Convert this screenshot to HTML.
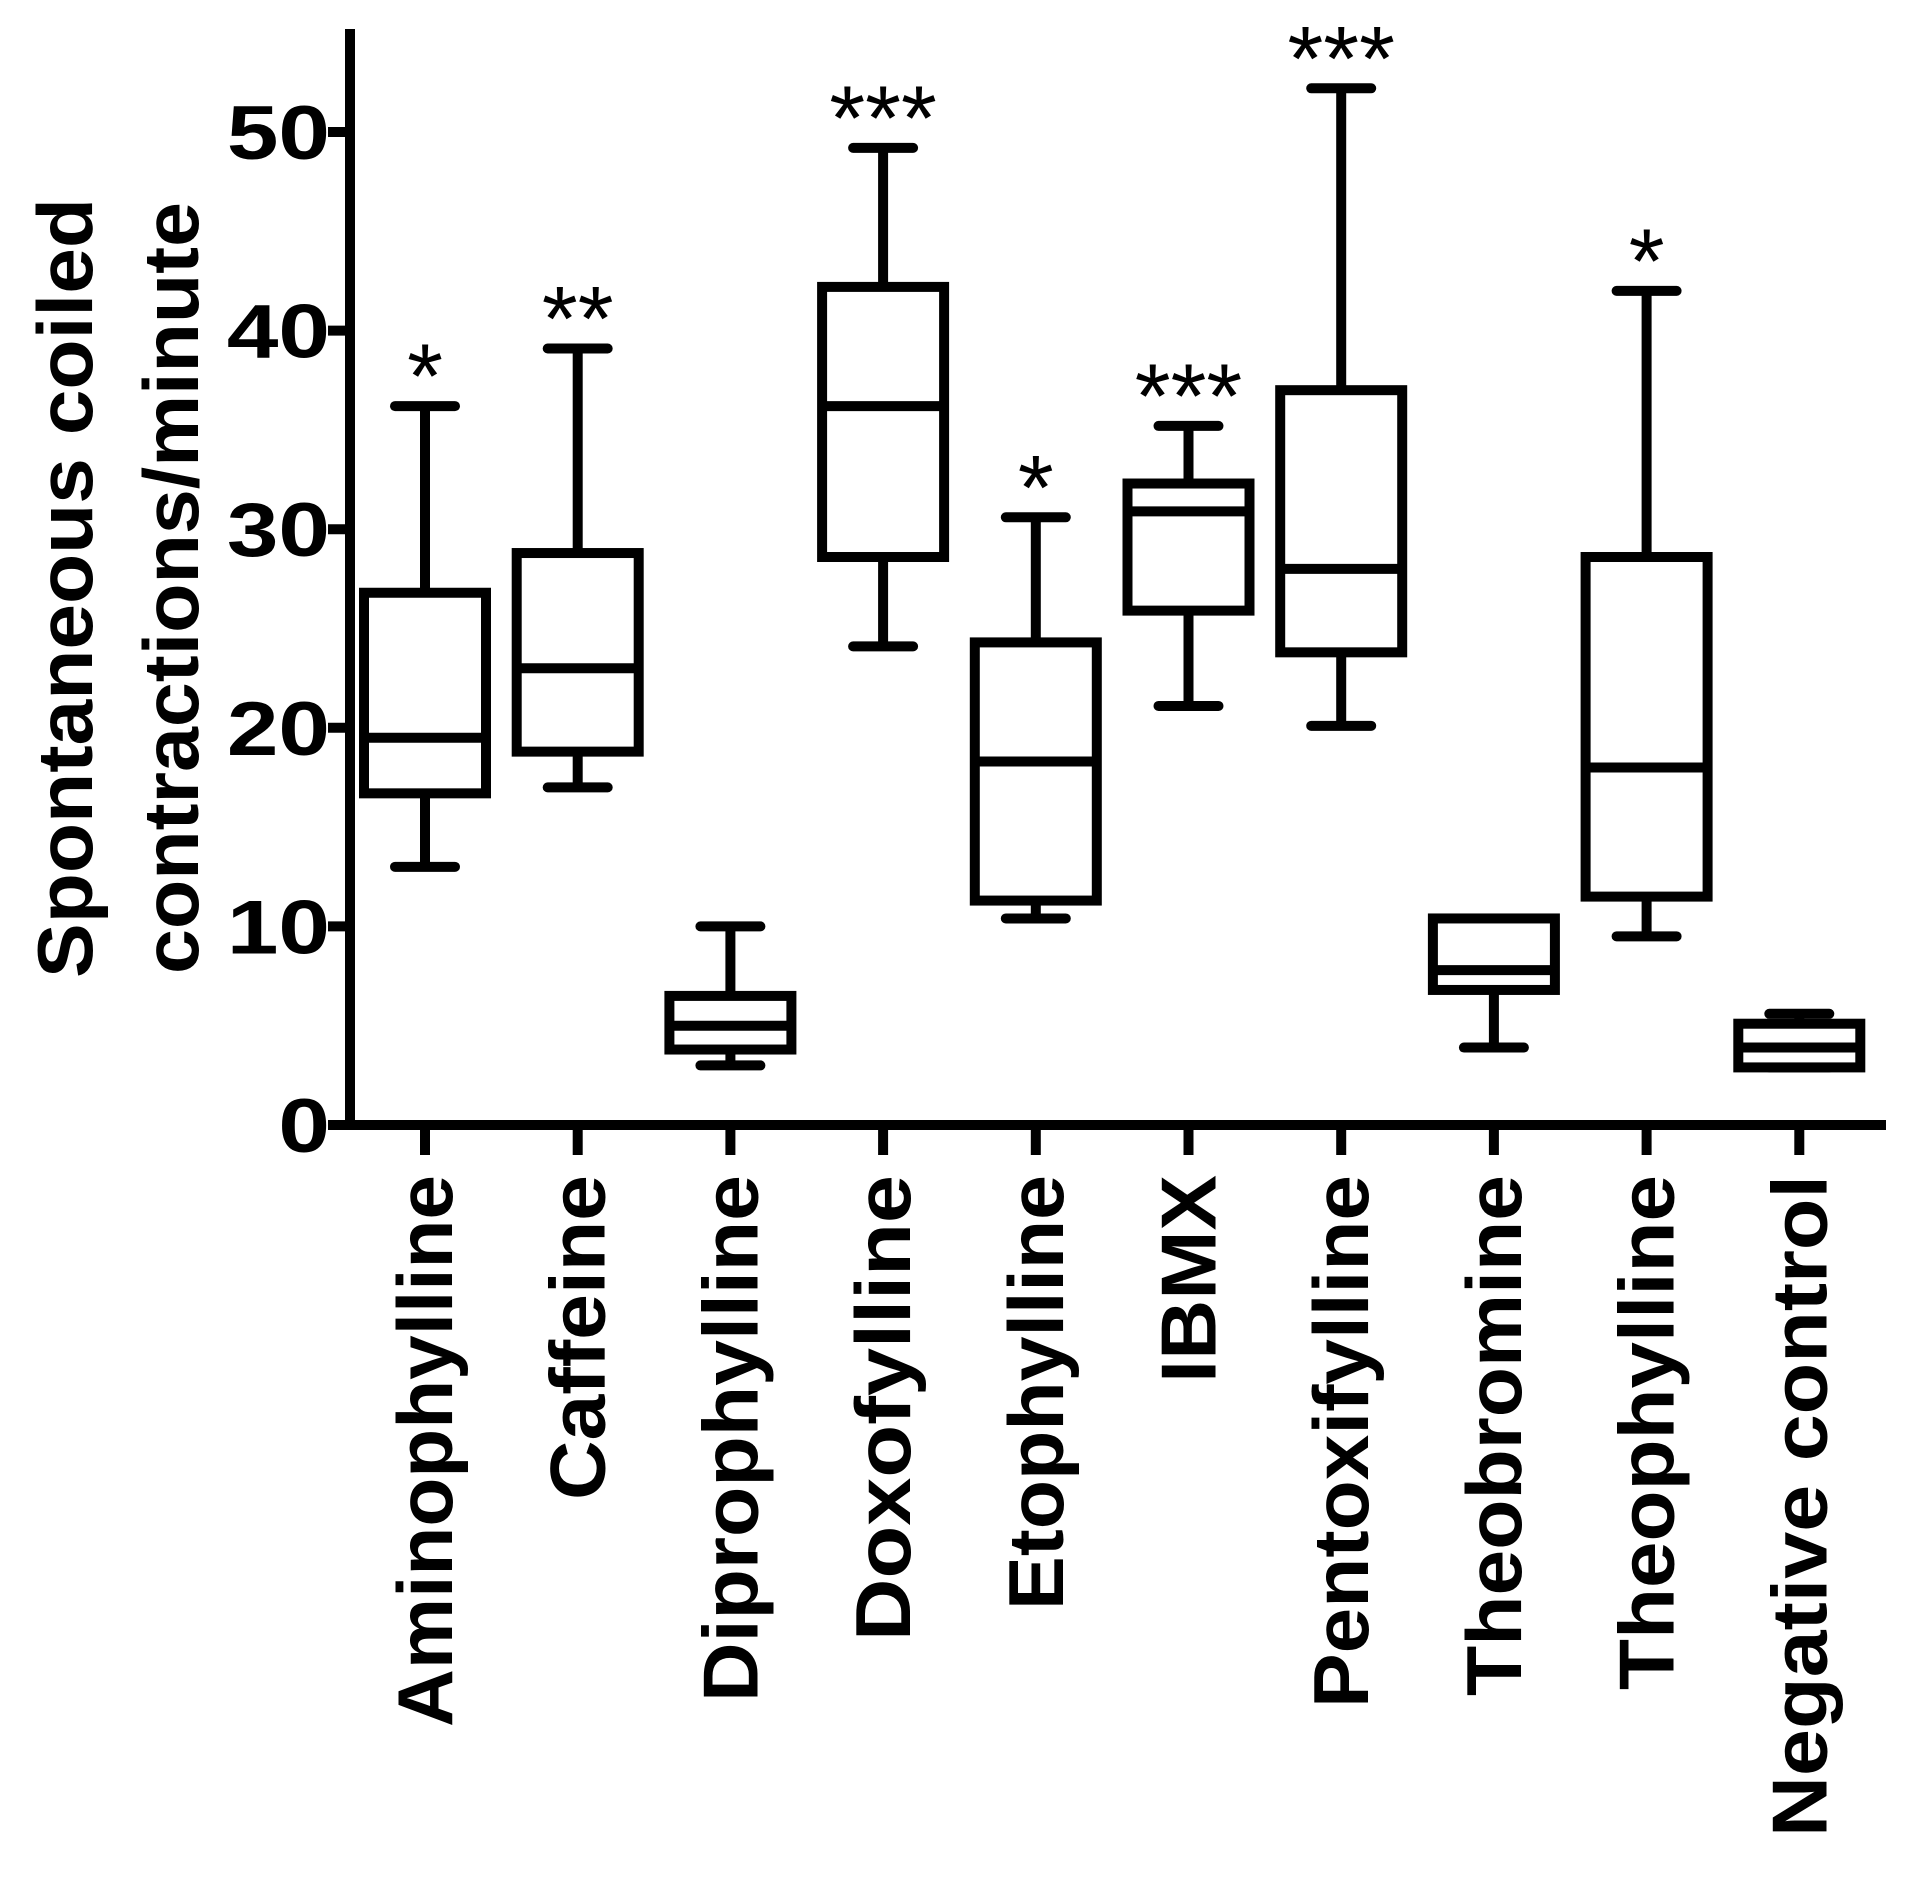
<!DOCTYPE html>
<html><head><meta charset="utf-8"><style>
html,body{margin:0;padding:0;background:#fff;}
svg{display:block;}
text{font-family:"Liberation Sans",Arial,sans-serif;fill:#000;}
</style></head><body>
<svg id="chart" width="1916" height="1879" viewBox="0 0 1916 1879" xmlns="http://www.w3.org/2000/svg">
<g id="axes"></g>
<g id="boxes"></g>
<text transform="translate(92,588) rotate(-90)" text-anchor="middle" font-size="78" font-weight="bold" textLength="780" lengthAdjust="spacingAndGlyphs">Spontaneous coiled</text>
<text transform="translate(198,588) rotate(-90)" text-anchor="middle" font-size="78" font-weight="bold" textLength="772" lengthAdjust="spacingAndGlyphs">contractions/minute</text>
</svg>
<script>
const categories=["Aminophylline","Caffeine","Diprophylline","Doxofylline","Etophylline","IBMX","Pentoxifylline","Theobromine","Theophylline","Negative control"];
const mins=[13.0,17.0,3.0,24.1,10.4,21.1,20.1,3.9,9.5,2.9];
const q1s=[16.7,18.8,3.8,28.6,11.3,25.9,23.8,6.8,11.5,2.9];
const medians=[19.5,23.0,5.0,36.2,18.3,30.9,28.0,7.8,18.0,3.9];
const q3s=[26.8,28.8,6.5,42.2,24.3,32.3,37.0,10.4,28.6,5.1];
const maxs=[36.2,39.1,10.0,49.2,30.6,35.2,52.2,10.0,42.0,5.6];
const stars=["*","**","","***","*","***","***","","*",""];
const yTicks=[0,10,20,30,40,50];
const labelLengths=[552,325,527,466,435,208,533,521,515,662];

const NS="http://www.w3.org/2000/svg";
const y0=1125, pxPer=19.86;
function yScale(v){return y0-v*pxPer;}
function xScale(i){return 425+i*152.7;}
const LW=10;
function mk(tag,attrs,parent){const e=document.createElementNS(NS,tag);for(const k in attrs)e.setAttribute(k,attrs[k]);parent.appendChild(e);return e;}
const axes=document.getElementById('axes'), boxes=document.getElementById('boxes');

let e;
e=mk('line',{x1:350,y1:29,x2:350,y2:y0+5,stroke:'#000','stroke-width':LW},axes);


e=mk('line',{x1:328,y1:y0,x2:1886,y2:y0,stroke:'#000','stroke-width':LW},axes);



yTicks.forEach(v=>{
  const y=yScale(v);
  let t=mk('line',{x1:328,y1:y,x2:350,y2:y,stroke:'#000','stroke-width':LW},axes);
  
  
  let l=mk('text',{transform:`translate(330,${y+27}) scale(1.22,1)`,'text-anchor':'end','font-size':76,'font-weight':'bold'},axes);
  l.textContent=v;
  
  
});

categories.forEach((c,i)=>{
  const x=xScale(i);
  let t=mk('line',{x1:x,y1:y0,x2:x,y2:y0+30,stroke:'#000','stroke-width':LW},axes);
  
  
  let l=mk('text',{transform:`translate(${x+27},1175) rotate(-90)`,'text-anchor':'end','font-size':78,'font-weight':'bold',textLength:labelLengths[i],lengthAdjust:'spacingAndGlyphs'},axes);
  l.textContent=c;
  
  

  const g=mk('g',{},boxes);
  
  
  const hw=61, cw=30;
  mk('line',{x1:x,y1:yScale(maxs[i]),x2:x,y2:yScale(q3s[i]),stroke:'#000','stroke-width':LW},g);
  mk('line',{x1:x,y1:yScale(q1s[i]),x2:x,y2:yScale(mins[i]),stroke:'#000','stroke-width':LW},g);
  mk('line',{x1:x-cw,y1:yScale(maxs[i]),x2:x+cw,y2:yScale(maxs[i]),stroke:'#000','stroke-width':LW,'stroke-linecap':'round'},g);
  mk('line',{x1:x-cw,y1:yScale(mins[i]),x2:x+cw,y2:yScale(mins[i]),stroke:'#000','stroke-width':LW,'stroke-linecap':'round'},g);
  mk('rect',{x:x-hw,y:yScale(q3s[i]),width:2*hw,height:Math.max(0.1,yScale(q1s[i])-yScale(q3s[i])),fill:'#fff',stroke:'#000','stroke-width':LW},g);
  mk('line',{x1:x-hw,y1:yScale(medians[i]),x2:x+hw,y2:yScale(medians[i]),stroke:'#000','stroke-width':LW},g);
  if(stars[i]){
    let s=mk('text',{x:x,y:yScale(maxs[i])+2,'text-anchor':'middle','font-size':92},g);
    s.textContent=stars[i];
    
    
  }
});
</script>
</body></html>
